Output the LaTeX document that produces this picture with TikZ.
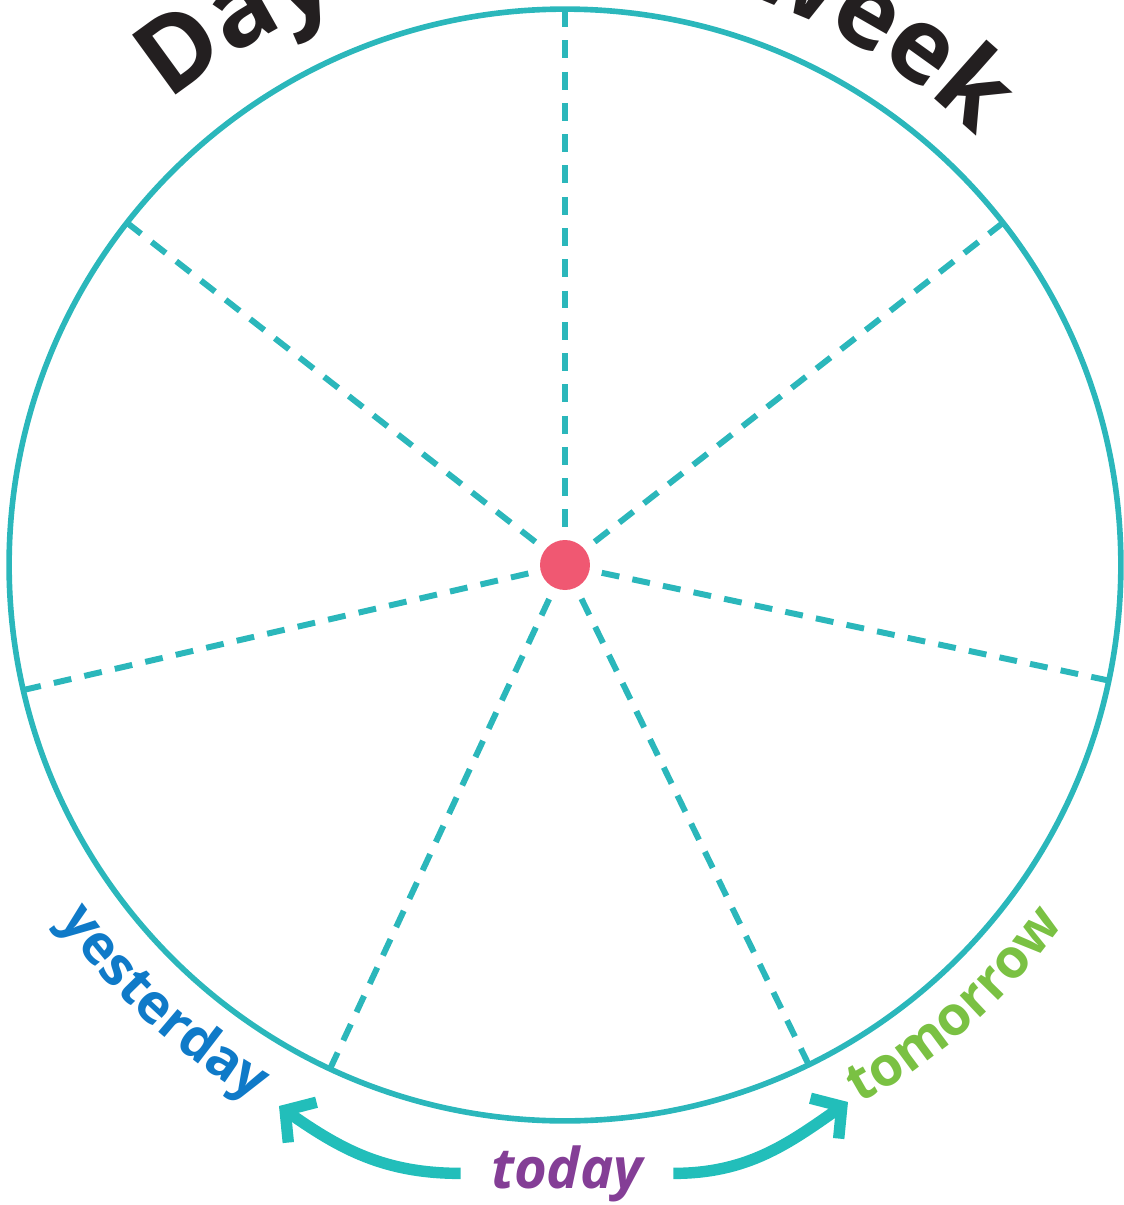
\documentclass[tikz,border=0pt]{standalone}
\usepackage{fontspec}
\setmainfont{Open Sans}
\usetikzlibrary{arrows.meta,decorations.text}
\definecolor{ring}{RGB}{43,183,187}
\definecolor{arrowteal}{RGB}{34,190,186}
\definecolor{hubred}{RGB}{240,88,114}
\definecolor{ink}{RGB}{35,31,32}
\definecolor{yblue}{RGB}{15,122,200}
\definecolor{tgreen}{RGB}{122,193,67}
\definecolor{dpurple}{RGB}{132,62,150}
\newcommand\titlefmt{\fontsize{59}{64}\selectfont\bfseries\color{ink}}
\newcommand\yfmt{\fontsize{31}{38}\selectfont\bfseries\color{yblue}}
\newcommand\tfmt{\fontsize{31}{38}\selectfont\bfseries\color{tgreen}}

\begin{document}
\begin{tikzpicture}[x=0.02cm, y=0.02cm, >={Straight Barb[length=12pt, width=28pt]}, spoke/.style={draw=ring, line width=3.4pt, dash pattern=on 10.2pt off 7.6pt}, turn/.style={->, draw=arrowteal, line width=6.5pt}]
\useasboundingbox (-565,-640) rectangle (559,565);
\node[circle, draw=ring, line width=3.2pt, inner sep=0pt, outer sep=0pt, minimum size=22.24cm] (wheel) at (0,0) {};
\node[circle, fill=hubred, inner sep=0pt, outer sep=0pt, minimum size=1cm] (hub) at (0,0) {};
\foreach \k in {0,...,6}
  \draw[spoke] (wheel.{90-\k*360/7}) -- (hub);
\begin{scope}
\clip (-565,-640) rectangle (559,565);
\path[shift={(-12,0)}, decorate, decoration={text along path, text align=center, text={|\titlefmt|Days of the week}}] (132.5:602) arc[start angle=132.5, end angle=42.5, radius=602];
\end{scope}
\path[decorate, decoration={text along path, text align=center, text={|\yfmt|yesterday}}] (205:619) arc[start angle=205, end angle=250, radius=619];
\path[decorate, decoration={text along path, text align=center, text={|\tfmt|tomorrow}}] (-71:614) arc[start angle=-71, end angle=-26, radius=614];
\node[anchor=base, font=\fontsize{32}{38}\selectfont\bfseries\itshape, text=dpurple, inner xsep=0.6cm] (today) at (2,-623) {today};
\coordinate (ytip) at (-286,-541);
\coordinate (ttip) at (283,-537);
\draw[turn] (today.west) to[out=180, in=-35] (ytip);
\draw[turn] (today.east) to[out=0, in=-145] (ttip);
\end{tikzpicture}
\end{document}
